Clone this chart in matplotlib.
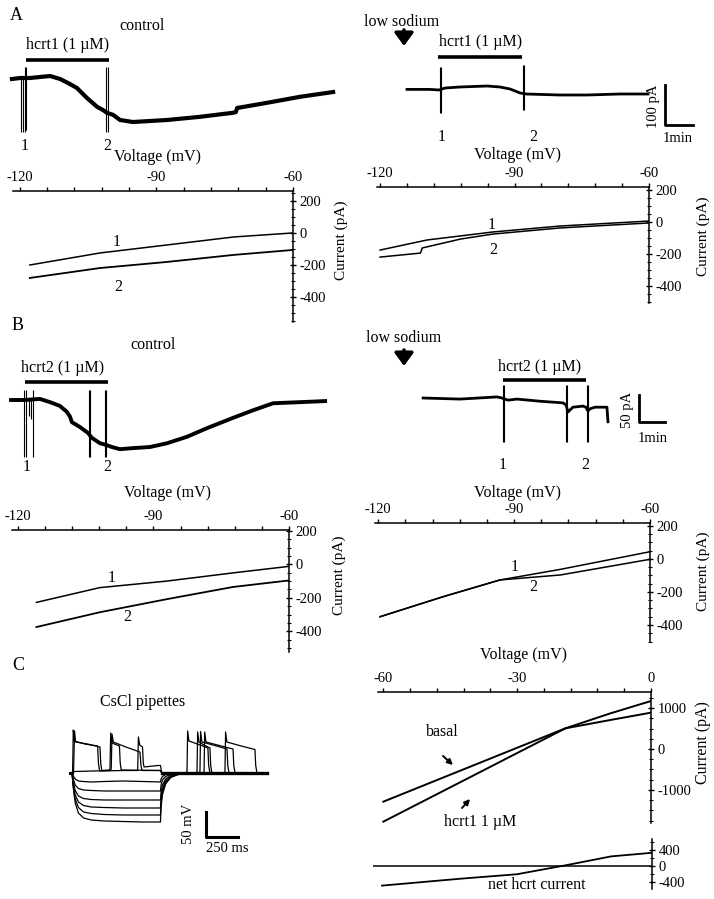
import matplotlib
matplotlib.use('Agg')
import matplotlib.pyplot as plt
from matplotlib.ticker import MultipleLocator

plt.rcParams['font.family'] = ['Liberation Serif', 'DejaVu Serif']
plt.rcParams['axes.unicode_minus'] = False

# ---------------- data ----------------
# A, control: holding current vs time (min, pA)
a1_t = [0.07, 0.36, 0.61, 0.71, 1.07, 1.43, 1.79, 2.14, 2.39, 2.75, 3.11, 3.32, 3.46,
        3.68, 3.93, 4.39, 5.61, 6.79, 7.96, 8.07, 8.11, 9.18, 10.36, 11.54]
a1_i = [-2.5, 0, 0, 0, 2.5, 5, -2.5, -15, -25, -50, -72, -80, -87,
        -92, -105, -110, -105, -97, -87, -85, -75, -62, -47, -35]
a1_spk_t = [0.38, 0.45, 0.54, 0.57, 3.43, 3.50]
a1_spk_lo = [-135, -135, -135, -130, -135, -135]
a1_spk_hi = [0, 0, 27, 27, 27, 27]
a1_drug = [0.57, 3.54]

# A, low sodium
a2_t = [0.25, 1.07, 1.39, 1.61, 2.14, 3.11, 3.57, 3.93, 4.29, 4.50, 5.71, 6.68, 7.86, 8.86]
a2_i = [-1, -1, -2.5, 2.5, 5, 7.5, 5, 0, -10, -12.5, -15, -15, -12.5, -12.5]
a2_spk_t = [1.43, 1.46, 4.38, 4.43]
a2_spk_lo = [-60, -60, -52, -52]
a2_spk_hi = [55, 55, 60, 60]
a2_drug = [1.36, 4.36]

# A, I-V curves (mV, pA)
ivA1_v1 = [-117.8, -102.4, -87.7, -73.0, -60.0]
ivA1_i1 = [-200, -125, -75, -25, 0]
ivA1_v2 = [-117.8, -102.4, -87.7, -73.0, -60.0]
ivA1_i2 = [-281, -219, -181, -137, -106]
ivA2_v1 = [-120.0, -109.5, -94.8, -79.9, -60.2]
ivA2_i1 = [-175, -112, -62, -25, 6]
ivA2_v2 = [-120.0, -111.0, -110.6, -102.0, -94.8, -79.9, -60.2]
ivA2_i2 = [-219, -194, -162, -106, -75, -37, -6]

# B, control
b1_t = [0.04, 0.54, 1.15, 1.54, 1.92, 2.19, 2.31, 2.38, 2.69, 3.00, 3.15, 3.46, 3.69,
        3.92, 4.23, 4.73, 5.38, 6.04, 6.81, 7.58, 8.58, 9.35, 10.12, 11.15, 12.12]
b1_i = [0, 0, 2, -4, -11, -22, -31, -41, -50, -61, -70, -80, -83,
        -87, -91, -89, -87, -80, -68, -52, -33, -19, -6, -4, -2]
b1_spk_t = [0.54, 0.62, 0.73, 0.79, 0.88, 3.04, 3.08, 3.65, 3.69]
b1_spk_lo = [-105, -105, -30, -35, -105, -105, -105, -105, -105]
b1_spk_hi = [18, 18, 0, 0, 18, 18, 18, 18, 18]
b1_drug = [0.58, 3.77]

# B, low sodium
b2_t = [0.12, 1.54, 2.96, 3.15, 3.38, 3.73, 4.62, 5.50, 5.62, 5.69, 5.88, 6.27,
        6.38, 6.46, 6.54, 6.73, 7.19, 7.23]
b2_i = [0, -2, 2, 0, -4, -2, -6, -9, -13, -26, -17, -15,
        -17, -24, -20, -17, -17, -44]
b2_spk_t = [3.19, 3.23, 5.62, 5.65, 6.42, 6.46]
b2_spk_lo = [-81, -81, -81, -81, -81, -81]
b2_spk_hi = [24, 24, 24, 24, 24, 24]
b2_drug = [3.19, 6.38]

# B, I-V curves
ivB1_v1 = [-115.9, -101.9, -87.1, -72.4, -60.0]
ivB1_i1 = [-227, -139, -100, -51, -12]
ivB1_v2 = [-115.9, -101.9, -87.1, -72.4, -60.0]
ivB1_i2 = [-374, -286, -208, -135, -96]
ivB2_v1 = [-119.6, -105.6, -93.1, -79.8, -60.0]
ivB2_i1 = [-350, -228, -127, -63, 44]
ivB2_v2 = [-119.6, -105.6, -93.1, -79.8, -60.0]
ivB2_i2 = [-350, -228, -127, -97, -2]

# C, CsCl pipettes: voltage responses (ms, mV)
cs_hyp_t = [-15, 0, 10, 25, 50, 90, 150, 250, 400, 550, 690, 695, 705, 730, 770, 830, 900, 1520]
cs_hyp_v = [
    [-60, -60, -66, -72, -76, -77, -78, -77, -76, -77, -78, -72, -67, -63, -61, -60, -60, -60],
    [-60, -60, -72, -84, -91, -94, -95, -96, -96, -96, -96, -84, -74, -67, -63, -61, -60, -60],
    [-60, -60, -78, -95, -106, -111, -113, -114, -114, -114, -114, -98, -84, -72, -65, -61, -60, -60],
    [-60, -60, -82, -104, -118, -125, -128, -129, -130, -130, -130, -110, -92, -76, -67, -62, -60, -60],
    [-60, -60, -86, -112, -129, -138, -141, -143, -144, -144, -144, -120, -98, -79, -68, -62, -60, -60],
    [-60, -60, -90, -120, -140, -150, -154, -156, -157, -158, -158, -128, -104, -82, -69, -63, -60, -60],
]
cs_d1_t = [-15, 0, 5, 10, 18, 100, 200, 206, 215, 400, 512, 518, 528, 550, 556, 562, 670, 690, 700, 1520]
cs_d1_v = [-60, -60, -56, 26, 4, -2, -6, -40, -56, -55, -55, 12, -4, -8, -40, -48, -45, -45, -60, -60]
cs_d2_t = [-15, 0, 12, 20, 28, 120, 218, 224, 232, 290, 296, 302, 312, 370, 376, 384, 690, 700, 1520]
cs_d2_v = [-60, -60, -57, 24, 2, -2, -8, -40, -55, -54, -52, 20, 0, -6, -40, -54, -55, -60, -60]
cs_d3_t = [-15, 0, 20, 300, 306, 312, 322, 420, 530, 538, 546, 690, 700, 1520]
cs_d3_v = [-60, -60, -57, -55, -52, 18, 2, -8, -18, -45, -55, -55, -60, -60]
cs_r1_t = [880, 897, 902, 912, 1000, 1060, 1066, 1075]
cs_r1_v = [-60, -58, 24, 4, -4, -10, -45, -59]
cs_r2_t = [960, 975, 980, 990, 1030, 1076, 1082, 1090]
cs_r2_v = [-60, -58, 22, 2, -4, -10, -45, -59]
cs_r3_t = [985, 998, 1003, 1013, 1100, 1209, 1215, 1224]
cs_r3_v = [-60, -58, 23, 2, -4, -12, -45, -59]
cs_r4_t = [1015, 1030, 1035, 1045, 1150, 1256, 1262, 1271]
cs_r4_v = [-60, -58, 22, 2, -5, -12, -45, -59]
cs_r5_t = [1180, 1193, 1198, 1208, 1320, 1427, 1433, 1442]
cs_r5_v = [-60, -58, 22, 2, -6, -13, -45, -59]

# C, I-V ramps
ivC_basal_v = [-60.0, -19.2, -9.1, 0.0]
ivC_basal_i = [-1285, 504, 708, 887]
ivC_hcrt_v = [-60.0, -19.2, -9.1, 0.0]
ivC_hcrt_i = [-1773, 504, 870, 1171]
ivC_net_v = [-60.0, -42.6, -30.0, -18.8, -9.1, 0.0]
ivC_net_i = [-490, -318, -206, 26, 240, 330]

iv_xticks_A = [-120, -90, -60]
iv_yticks_A = [200, 0, -200, -400]
iv_xticks_C = [-60, -30, 0]
iv_yticks_C = [1000, 0, -1000]
net_yticks = [400, 0, -400]

# ---------------- figure ----------------
W, H = 714, 899
fig = plt.figure(figsize=(W / 100, H / 100), dpi=100)


def px_axes(x0, y0, x1, y1):
    # axes placed by pixel box (y measured from top)
    return fig.add_axes([x0 / W, 1 - y1 / H, (x1 - x0) / W, (y1 - y0) / H])


def trace_axes(x0, x1, y0, y1, y_zero, pa_per_px, px_per_min):
    ax = px_axes(x0, y0, x1, y1)
    ax.set_xlim(0, (x1 - x0) / px_per_min)
    ax.set_ylim((y_zero - y1) * pa_per_px, (y_zero - y0) * pa_per_px)
    ax.axis('off')
    return ax


def draw_trace(ax, t, i, spk_t, spk_lo, spk_hi, drug, drug_y, lw):
    ax.plot(t, i, color='k', lw=lw, solid_joinstyle='round', clip_on=False)
    ax.vlines(spk_t, spk_lo, spk_hi, color='k', lw=0.8, clip_on=False)
    ax.plot(drug, [drug_y, drug_y], color='k', lw=2.6, solid_capstyle='butt', clip_on=False)


def iv_axes(x0, y0, x1, y1, xlim, ylim, xticks, yticks, yminor):
    ax = px_axes(x0, y0, x1, y1)
    ax.set_xlim(*xlim)
    ax.set_ylim(*ylim)
    ax.spines['left'].set_visible(False)
    ax.spines['bottom'].set_visible(False)
    ax.spines['top'].set_linewidth(1.1)
    ax.spines['right'].set_linewidth(1.1)
    ax.xaxis.tick_top()
    ax.yaxis.tick_right()
    ax.set_xticks(xticks)
    ax.set_xticklabels([str(v) for v in xticks])
    ax.xaxis.set_minor_locator(MultipleLocator(6))
    ax.set_yticks(yticks)
    ax.set_yticklabels([str(v) for v in yticks])
    ax.yaxis.set_minor_locator(MultipleLocator(yminor))
    ax.tick_params(axis='x', which='both', direction='out', length=3, width=1, pad=2, labelsize=10.5)
    ax.tick_params(axis='y', which='major', direction='inout', length=5, width=1, pad=2, labelsize=10.5)
    ax.tick_params(axis='y', which='minor', direction='inout', length=3, width=0.8)
    ax.patch.set_visible(False)
    return ax


# A: time courses
ax = trace_axes(10, 345, 55, 140, 78, 2.5, 28)
draw_trace(ax, a1_t, a1_i, a1_spk_t, a1_spk_lo, a1_spk_hi, a1_drug, 45, 3.0)

ax = trace_axes(400, 700, 55, 140, 89, 2.5, 28)
draw_trace(ax, a2_t, a2_i, a2_spk_t, a2_spk_lo, a2_spk_hi, a2_drug, 80, 2.0)
ax.plot([9.46, 9.46, 10.46], [10, -90, -90], color='k', lw=2.0, clip_on=False)

# A: I-V
ax = iv_axes(13, 191, 293, 322, (-121.5, -60), (-556, 262), iv_xticks_A, iv_yticks_A, 50)
ax.plot(ivA1_v1, ivA1_i1, color='k', lw=1.1)
ax.plot(ivA1_v2, ivA1_i2, color='k', lw=1.3)

ax = iv_axes(377, 187, 649, 303, (-120.7, -60), (-506, 219), iv_xticks_A, iv_yticks_A, 50)
ax.plot(ivA2_v1, ivA2_i1, color='k', lw=1.1)
ax.plot(ivA2_v2, ivA2_i2, color='k', lw=1.1)

# B: time courses
ax = trace_axes(10, 335, 375, 470, 400, 1.85, 26)
draw_trace(ax, b1_t, b1_i, b1_spk_t, b1_spk_lo, b1_spk_hi, b1_drug, 33.3, 2.8)

ax = trace_axes(420, 680, 375, 470, 398, 1.85, 26)
draw_trace(ax, b2_t, b2_i, b2_spk_t, b2_spk_lo, b2_spk_hi, b2_drug, 33.3, 2.0)
ax.plot([8.42, 8.42, 9.42], [5.6, -44.4, -44.4], color='k', lw=2.0, clip_on=False)

# B: I-V
ax = iv_axes(12, 530, 289, 652, (-121.3, -60), (-523, 205), iv_xticks_A, iv_yticks_A, 50)
ax.plot(ivB1_v1, ivB1_i1, color='k', lw=1.1)
ax.plot(ivB1_v2, ivB1_i2, color='k', lw=1.3)

ax = iv_axes(375, 523, 650, 642, (-120.7, -60), (-503, 218), iv_xticks_A, iv_yticks_A, 50)
ax.plot(ivB2_v1, ivB2_i1, color='k', lw=1.1)
ax.plot(ivB2_v2, ivB2_i2, color='k', lw=1.1)

# C: voltage responses
ax = px_axes(60, 720, 280, 860)
ax.set_xlim(-93.6, 1622.4)
ax.set_ylim(-234, 46)
ax.axis('off')
for v in cs_hyp_v:
    ax.plot(cs_hyp_t, v, color='k', lw=0.9)
for t, v in [(cs_d1_t, cs_d1_v), (cs_d2_t, cs_d2_v), (cs_d3_t, cs_d3_v),
             (cs_r1_t, cs_r1_v), (cs_r2_t, cs_r2_v), (cs_r3_t, cs_r3_v),
             (cs_r4_t, cs_r4_v), (cs_r5_t, cs_r5_v)]:
    ax.plot(t, v, color='k', lw=0.9)
ax.plot([-15, 0], [-60, -60], color='k', lw=2.2)
ax.plot([700, 1520], [-60, -60], color='k', lw=2.4)
ax.plot([1045, 1045, 1295], [-138, -188, -188], color='k', lw=2.2, clip_on=False)

# C: I-V
ax = iv_axes(378, 692, 651, 823, (-61.2, 0), (-1806, 1391), iv_xticks_C, iv_yticks_C, 250)
ax.plot(ivC_basal_v, ivC_basal_i, color='k', lw=1.4)
ax.plot(ivC_hcrt_v, ivC_hcrt_i, color='k', lw=1.4)

ax = px_axes(373, 839, 652, 889)
ax.set_xlim(-62, 0)
ax.set_ylim(-575, 675)
for s in ['left', 'bottom', 'top']:
    ax.spines[s].set_visible(False)
ax.spines['right'].set_linewidth(1.1)
ax.set_xticks([])
ax.yaxis.tick_right()
ax.set_yticks(net_yticks)
ax.set_yticklabels([str(v) for v in net_yticks])
ax.yaxis.set_minor_locator(MultipleLocator(200))
ax.tick_params(axis='y', which='major', direction='inout', length=5, width=1, pad=2, labelsize=10.5)
ax.tick_params(axis='y', which='minor', direction='inout', length=3, width=0.8)
ax.axhline(0, color='k', lw=1.1)
ax.plot(ivC_net_v, ivC_net_i, color='k', lw=1.3)
ax.patch.set_visible(False)

# ---------------- text overlay (pixel coords) ----------------
ov = fig.add_axes([0, 0, 1, 1])
ov.set_xlim(0, W)
ov.set_ylim(H, 0)
ov.axis('off')
ov.patch.set_visible(False)

fs = 11.5
labels = [
    ("A", 16, 15, 13, 0), ("control", 142, 26, fs, 0), ("hcrt1 (1 \u00b5M)", 68, 45, fs, 0),
    ("1", 25, 146, fs, 0), ("2", 107, 146, fs, 0), ("Voltage (mV)", 157, 157, fs, 0),
    ("1", 117, 242, fs, 0), ("2", 118, 287, fs, 0), ("Current (pA)", 341, 240, 11, 90),
    ("low sodium", 402, 22, fs, 0), ("hcrt1 (1 \u00b5M)", 481, 42, fs, 0),
    ("1", 442, 137, fs, 0), ("2", 533, 137, fs, 0), ("100 pA", 653, 106, 10.5, 90),
    ("1min", 678, 138, 10.5, 0), ("Voltage (mV)", 517, 155, fs, 0),
    ("1", 492, 225, fs, 0), ("2", 493, 250, fs, 0), ("Current (pA)", 703, 236, 11, 90),
    ("B", 18, 326, 13, 0), ("control", 153, 345, fs, 0), ("hcrt2 (1 \u00b5M)", 63, 368, fs, 0),
    ("1", 27, 467, fs, 0), ("2", 107, 467, fs, 0), ("Voltage (mV)", 167, 493, fs, 0),
    ("1", 112, 578, fs, 0), ("2", 127, 617, fs, 0), ("Current (pA)", 339, 575, 11, 90),
    ("low sodium", 404, 338, fs, 0), ("hcrt2 (1 \u00b5M)", 540, 367, fs, 0),
    ("1", 503, 465, fs, 0), ("2", 585, 465, fs, 0), ("50 pA", 627, 410, 10.5, 90),
    ("1min", 653, 438, 10.5, 0), ("Voltage (mV)", 517, 493, fs, 0),
    ("1", 515, 567, fs, 0), ("2", 533, 587, fs, 0), ("Current (pA)", 703, 571, 11, 90),
    ("C", 18, 665, 13, 0), ("CsCl pipettes", 143, 702, fs, 0),
    ("50 mV", 189, 824, 10.5, 90), ("250 ms", 227, 848, 10.5, 0),
    ("Voltage (mV)", 523, 655, fs, 0), ("basal", 442, 732, fs, 0),
    ("hcrt1 1 \u00b5M", 480, 822, fs, 0), ("net hcrt current", 537, 885, fs, 0),
    ("Current (pA)", 703, 743, 11.5, 90),
]
for s, x, y, size, rot in labels:
    ov.text(x, y, s, fontsize=size, rotation=rot, ha='center', va='center')

# low sodium arrows
for y0 in (30, 350):
    ov.annotate('', xy=(404, y0 + 16), xytext=(404, y0),
                arrowprops=dict(arrowstyle='-|>,head_width=0.4,head_length=0.55',
                                lw=2.6, color='k', shrinkA=0, shrinkB=0, mutation_scale=14))
# basal / hcrt1 pointers
ov.annotate('', xy=(453, 765), xytext=(443, 756),
            arrowprops=dict(arrowstyle='-|>', lw=1.4, color='k', shrinkA=0, shrinkB=0, mutation_scale=8))
ov.annotate('', xy=(470, 799), xytext=(462, 808),
            arrowprops=dict(arrowstyle='-|>', lw=1.4, color='k', shrinkA=0, shrinkB=0, mutation_scale=8))

fig.savefig('out.png', dpi=100)
